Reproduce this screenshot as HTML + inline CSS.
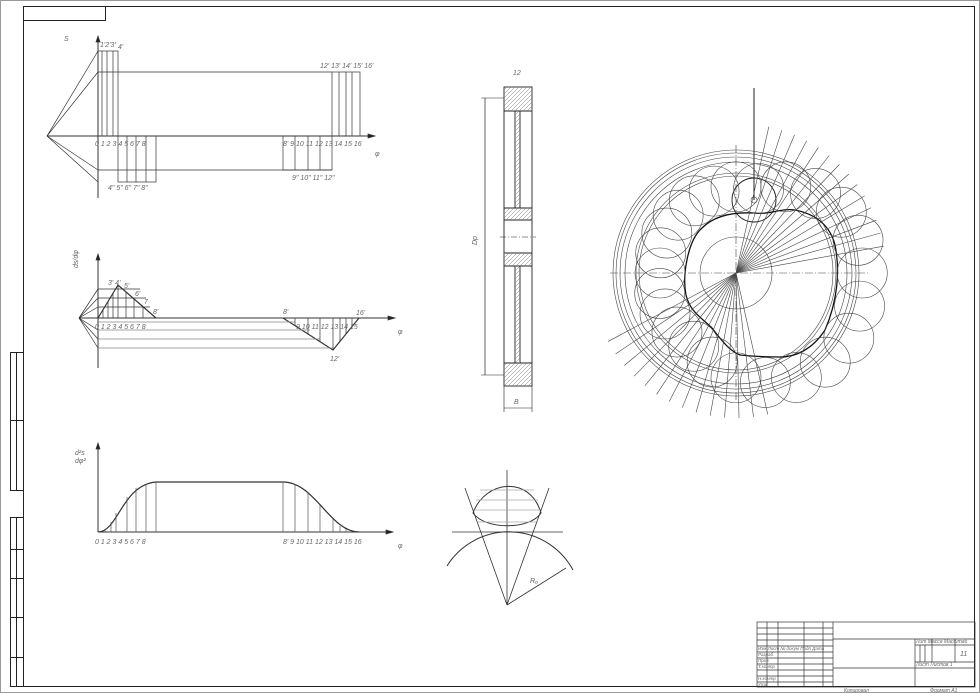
<!DOCTYPE html>
<html><head><meta charset="utf-8"><style>
html,body{margin:0;padding:0;background:#fff}
svg{display:block}
text{font-family:"Liberation Sans",sans-serif;font-style:italic;fill:#666}
</style></head><body>
<svg id="s" width="980" height="693" viewBox="0 0 980 693" xmlns="http://www.w3.org/2000/svg">
<defs>
<clipPath id="c1"><rect x="504" y="87" width="28" height="24"/><rect x="504" y="363" width="28" height="23"/><rect x="504" y="208" width="28" height="12"/><rect x="504" y="253" width="28" height="13"/><rect x="515" y="111" width="5" height="97"/><rect x="515" y="266" width="5" height="97"/></clipPath>
</defs>
<g fill="none" stroke="#222" stroke-width="1">
<rect x="0.5" y="0.5" width="979" height="692" stroke="#999"/>
<rect x="23.5" y="6.5" width="951" height="680"/>
<rect x="23.5" y="6.5" width="82" height="14"/>
<rect x="10.5" y="352.5" width="13" height="138"/>
<line x1="16.5" y1="352" x2="16.5" y2="490"/><line x1="10" y1="420.5" x2="23" y2="420.5"/>
<rect x="10.5" y="517.5" width="13" height="169"/>
<line x1="16.5" y1="517" x2="16.5" y2="687"/>
<line x1="10" y1="549.5" x2="23" y2="549.5"/><line x1="10" y1="578.5" x2="23" y2="578.5"/><line x1="10" y1="617.5" x2="23" y2="617.5"/><line x1="10" y1="657.5" x2="23" y2="657.5"/>
</g>
<g fill="none" stroke="#333" stroke-width="0.7">
<line x1="98" y1="36" x2="98" y2="198" stroke-width="1"/>
<line x1="47" y1="136" x2="375" y2="136" stroke-width="1"/>
<path d="M98 36 l-2 6 h4z M375 136 l-7 -2 v4z" fill="#222"/>
<rect x="98" y="51" width="20" height="85"/>
<line x1="102" y1="51" x2="102" y2="136"/><line x1="107" y1="51" x2="107" y2="136"/><line x1="113" y1="51" x2="113" y2="136"/>
<line x1="98" y1="72" x2="332" y2="72"/>
<rect x="332" y="72" width="28" height="64"/>
<line x1="339" y1="72" x2="339" y2="136"/><line x1="346" y1="72" x2="346" y2="136"/><line x1="352" y1="72" x2="352" y2="136"/>
<rect x="118" y="136" width="38" height="46"/>
<line x1="127" y1="136" x2="127" y2="182"/><line x1="136" y1="136" x2="136" y2="182"/><line x1="146" y1="136" x2="146" y2="182"/>
<line x1="98" y1="170" x2="332" y2="170"/>
<rect x="283" y="136" width="49" height="34"/>
<line x1="295" y1="136" x2="295" y2="170"/><line x1="308" y1="136" x2="308" y2="170"/><line x1="320" y1="136" x2="320" y2="170"/>
<line x1="47" y1="136" x2="98" y2="51"/><line x1="47" y1="136" x2="98" y2="72"/><line x1="47" y1="136" x2="98" y2="170"/><line x1="47" y1="136" x2="98" y2="182"/>
<line x1="98" y1="254" x2="98" y2="368" stroke-width="1"/>
<line x1="79" y1="318" x2="395" y2="318" stroke-width="1"/>
<path d="M98 254 l-2 6 h4z M395 318 l-7 -2 v4z" fill="#222"/>
<path d="M98 318 L118 285 L156 318" stroke-width="1.2"/>
<path d="M283 318 L333 350 L359 318" stroke-width="1.2"/>
<line x1="98" y1="289" x2="140" y2="289"/><line x1="98" y1="298" x2="146" y2="298"/><line x1="98" y1="307" x2="150" y2="307"/>
<line x1="103" y1="310" x2="103" y2="318"/><line x1="108" y1="302" x2="108" y2="318"/><line x1="113" y1="293" x2="113" y2="318"/><line x1="118" y1="285" x2="118" y2="318"/><line x1="126" y1="292" x2="126" y2="318"/><line x1="134" y1="299" x2="134" y2="318"/><line x1="143" y1="307" x2="143" y2="318"/>
<g stroke="#888"><line x1="98" y1="322" x2="295" y2="322"/><line x1="98" y1="330" x2="310" y2="330"/><line x1="98" y1="339" x2="320" y2="339"/><line x1="98" y1="348" x2="333" y2="348"/></g>
<line x1="295" y1="318" x2="295" y2="326"/><line x1="308" y1="318" x2="308" y2="334"/><line x1="320" y1="318" x2="320" y2="342"/><line x1="333" y1="318" x2="333" y2="350"/><line x1="340" y1="318" x2="340" y2="342"/><line x1="346" y1="318" x2="346" y2="334"/><line x1="352" y1="318" x2="352" y2="326"/>
<line x1="79" y1="318" x2="98" y2="289"/><line x1="79" y1="318" x2="98" y2="298"/><line x1="79" y1="318" x2="98" y2="307"/><line x1="79" y1="318" x2="98" y2="330"/><line x1="79" y1="318" x2="98" y2="339"/><line x1="79" y1="318" x2="98" y2="348"/>
<line x1="98" y1="443" x2="98" y2="532" stroke-width="1"/>
<line x1="98" y1="532" x2="393" y2="532" stroke-width="1"/>
<path d="M98 443 l-2 6 h4z M393 532 l-7 -2 v4z" fill="#222"/>
<path d="M98 532 C118 532 122 485 156 482 L283 482 C315 482 330 532 359 532" stroke-width="1.2"/>
<g stroke="#555">
<line x1="105" y1="532" x2="105" y2="529"/><line x1="111" y1="532" x2="111" y2="522"/><line x1="116" y1="532" x2="116" y2="513"/><line x1="127" y1="532" x2="127" y2="497"/><line x1="136" y1="532" x2="136" y2="488"/><line x1="146" y1="532" x2="146" y2="484"/><line x1="156" y1="532" x2="156" y2="482"/>
<line x1="283" y1="532" x2="283" y2="482"/><line x1="295" y1="532" x2="295" y2="484"/><line x1="308" y1="532" x2="308" y2="492"/><line x1="320" y1="532" x2="320" y2="505"/><line x1="333" y1="532" x2="333" y2="519"/><line x1="340" y1="532" x2="340" y2="526"/><line x1="346" y1="532" x2="346" y2="529"/>
</g>
<g stroke="#222" stroke-width="0.9">
<rect x="504" y="87" width="28" height="299"/>
<line x1="504" y1="111" x2="532" y2="111"/><line x1="504" y1="363" x2="532" y2="363"/>
<line x1="504" y1="208" x2="532" y2="208"/><line x1="504" y1="220" x2="532" y2="220"/><line x1="504" y1="253" x2="532" y2="253"/><line x1="504" y1="266" x2="532" y2="266"/>
<rect x="515" y="111" width="5" height="97"/><rect x="515" y="266" width="5" height="97"/>
<line x1="485" y1="98" x2="485" y2="375" stroke-width="0.7"/>
<line x1="481" y1="98" x2="504" y2="98" stroke-width="0.6"/><line x1="481" y1="375" x2="504" y2="375" stroke-width="0.6"/>
<line x1="504" y1="386" x2="504" y2="412" stroke-width="0.6"/><line x1="532" y1="386" x2="532" y2="412" stroke-width="0.6"/>
<line x1="504" y1="408" x2="532" y2="408" stroke-width="0.6"/>
<line x1="500" y1="237" x2="536" y2="237" stroke-dasharray="6 2 1 2" stroke-width="0.5"/>
</g>
<g stroke="#777" stroke-width="0.5" id="hatch" clip-path="url(#c1)"></g>
<g stroke="#333" stroke-width="0.8">
<path d="M447 566 A73 73 0 0 1 573 570" stroke-width="1"/>
<path d="M473 513 C485 480 530 475 541 513 C530 530 485 530 473 513z" stroke-width="1"/>
<line x1="452" y1="532" x2="563" y2="532"/><line x1="507" y1="470" x2="507" y2="605"/>
<line x1="507" y1="605" x2="465" y2="488"/><line x1="507" y1="605" x2="549" y2="488"/>
<line x1="507" y1="605" x2="566" y2="568"/>
<line x1="480" y1="490" x2="534" y2="490" stroke="#aaa"/><line x1="476" y1="500" x2="538" y2="500" stroke="#aaa"/><line x1="474" y1="510" x2="540" y2="510" stroke="#aaa"/><line x1="478" y1="522" x2="536" y2="522" stroke="#aaa"/>
</g>
<g id="cam" stroke="#444" stroke-width="0.6">
<line x1="754" y1="88" x2="754" y2="200" stroke="#222" stroke-width="1"/>
<circle cx="736" cy="273" r="123"/><circle cx="736" cy="273" r="120"/><circle cx="736" cy="273" r="116"/><circle cx="736" cy="273" r="111"/><circle cx="736" cy="273" r="100"/><circle cx="736" cy="273" r="97"/><circle cx="736" cy="273" r="36"/>
<line x1="610" y1="273" x2="870" y2="273" stroke-dasharray="8 2 1 2"/><line x1="736" y1="145" x2="736" y2="400" stroke-dasharray="8 2 1 2"/>
<circle cx="754" cy="200" r="22" stroke="#222" stroke-width="0.9"/><circle cx="754" cy="200" r="3"/>
<path d="M754 213 C770 215 780 208 795 210 C815 214 830 225 835 245 C840 270 838 300 825 330 C812 350 795 357 780 357 C765 357 750 356 740 355 C728 350 720 338 712 328 C702 318 690 312 686 295 C682 275 688 240 702 228 C715 215 735 212 754 213z" stroke="#111" stroke-width="1.3"/>
</g>
<g stroke="#333" stroke-width="0.7" fill="none">
<rect x="757" y="622" width="218" height="65"/>
<line x1="767" y1="622" x2="767" y2="687"/><line x1="778" y1="622" x2="778" y2="687"/><line x1="804" y1="622" x2="804" y2="687"/><line x1="823" y1="622" x2="823" y2="687"/><line x1="833" y1="622" x2="833" y2="687"/>
<line x1="757" y1="628" x2="833" y2="628"/><line x1="757" y1="634" x2="833" y2="634"/><line x1="757" y1="640" x2="833" y2="640"/><line x1="757" y1="646" x2="833" y2="646"/><line x1="757" y1="652" x2="833" y2="652"/><line x1="757" y1="658" x2="833" y2="658"/><line x1="757" y1="664" x2="833" y2="664"/><line x1="757" y1="670" x2="833" y2="670"/><line x1="757" y1="676" x2="833" y2="676"/><line x1="757" y1="682" x2="833" y2="682"/>
<line x1="833" y1="639" x2="975" y2="639"/><line x1="833" y1="668" x2="975" y2="668"/>
<line x1="915" y1="639" x2="915" y2="687"/>
<line x1="915" y1="645" x2="975" y2="645"/><line x1="915" y1="662" x2="975" y2="662"/>
<line x1="932" y1="639" x2="932" y2="662"/><line x1="955" y1="639" x2="955" y2="662"/>
<line x1="920" y1="645" x2="920" y2="662"/><line x1="925" y1="645" x2="925" y2="662"/>
</g>
</g>
<g font-size="7">
<text x="64" y="41">S</text><text x="100" y="47">1'2'3'</text><text x="118" y="49">4'</text>
<text x="320" y="68">12' 13' 14' 15' 16'</text>
<text x="95" y="146">0 1 2 3 4 5 6  7 8</text><text x="283" y="146">8' 9 10  11 12 13 14 15 16</text>
<text x="375" y="156">φ</text>
<text x="108" y="190">4"  5" 6" 7" 8"</text><text x="292" y="180">9" 10"  11"  12"</text>
<text x="78" y="268" transform="rotate(-90 78 268)">ds/dφ</text>
<text x="108" y="285">3' 4'</text><text x="124" y="288">5'</text><text x="135" y="296">6'</text><text x="144" y="304">7</text><text x="153" y="314">8'</text>
<text x="95" y="329">0 1 2 3 4 5 6  7 8</text><text x="283" y="314">8'</text><text x="296" y="329">9 10 11 12 13 14 15</text>
<text x="356" y="315">16'</text><text x="398" y="334">φ</text><text x="330" y="361">12'</text>
<text x="75" y="455">d²s</text><text x="75" y="463">dφ²</text>
<text x="95" y="544">0 1 2 3 4 5 6  7 8</text><text x="283" y="544">8'  9 10  11 12 13 14 15 16</text><text x="398" y="548">φ</text>
<text x="513" y="75">12</text><text x="477" y="245" transform="rotate(-90 477 245)">Dр</text><text x="514" y="404">B</text>
<text x="530" y="583">R₀</text>
<text x="916" y="643" font-size="5">Лит  Масса  Масштаб</text><text x="960" y="656">11</text>
<text x="916" y="666" font-size="5">Лист     Листов  1</text>
<text x="844" y="692" font-size="5">Копировал</text><text x="930" y="692" font-size="5">Формат  A1</text>
<text x="758" y="650" font-size="4.5">Изм Лист  № докум  Подп  Дата</text>
<text x="758" y="656" font-size="4.5">Разраб</text><text x="758" y="662" font-size="4.5">Пров</text><text x="758" y="668" font-size="4.5">Т.контр</text><text x="758" y="680" font-size="4.5">Н.контр</text><text x="758" y="686" font-size="4.5">Утв</text>
</g>
</svg>
<script>
(function(){
var NS="http://www.w3.org/2000/svg",cam=document.getElementById("cam"),h=document.getElementById("hatch");
function el(p,t,a){var e=document.createElementNS(NS,t);for(var k in a)e.setAttribute(k,a[k]);p.appendChild(e);return e;}
for(var x=150;x<640;x+=4){el(h,"line",{x1:x,y1:400,x2:x+320,y2:80});}
var pts=[[754,213],[795,210],[830,235],[837,280],[825,330],[780,357],[740,355],[712,328],[688,305],[685,273],[700,228]];
var cx=736,cy=273,pol=pts.map(function(p){return [Math.atan2(p[1]-cy,p[0]-cx),Math.hypot(p[0]-cx,p[1]-cy)];});
pol.sort(function(a,b){return a[0]-b[0];});
function R(t){var n=pol.length;for(var i=0;i<n;i++){var a=pol[i],b=pol[(i+1)%n];var ta=a[0],tb=b[0];if(i==n-1)tb+=2*Math.PI;var tt=t;if(tt<ta)tt+=2*Math.PI;if(tt>=ta&&tt<=tb){var f=(tt-ta)/(tb-ta);return a[1]+(b[1]-a[1])*f;}}return 70;}
for(var i=0;i<24;i++){var t=-Math.PI+i*2*Math.PI/24;var r=R(t)+25;el(cam,"circle",{cx:cx+r*Math.cos(t),cy:cy+r*Math.sin(t),r:25});}
for(var i=0;i<14;i++){var t=-1.35+i*0.09;el(cam,"line",{x1:cx,y1:cy,x2:cx+150*Math.cos(t),y2:cy+150*Math.sin(t)});}
for(var i=0;i<14;i++){var t=1.35+i*0.1;el(cam,"line",{x1:cx,y1:cy,x2:cx+145*Math.cos(t),y2:cy+145*Math.sin(t)});}
})();
</script>
</body></html>
